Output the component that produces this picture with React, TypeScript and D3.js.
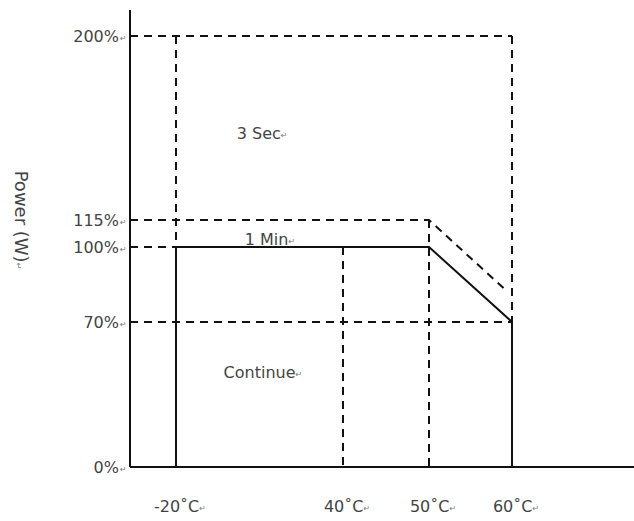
import React from "react";
import * as d3 from "d3";

const W = 634;
const H = 521;

// Schematic axis stops (non-uniform spacing in the original)
const tempStops = [-20, 40, 50, 60];
const powerStops = [0, 70, 100, 115, 200];

const xTickLabels = ["-20˚C", "40˚C", "50˚C", "60˚C"];
const yTickLabels = ["0%", "70%", "100%", "115%", "200%"];

// Continuous derating curve (solid)
const contTemps = [-20, -20, 50, 60, 60];
const contPower = [0, 100, 100, 70, 0];

// 1 Min curve (dashed)
const minTemps = [-20, 50, 59.5];
const minPower = [115, 115, 82];

// 3 Sec envelope (dashed)
const secTemps = [-20, 60, 60];
const secPower = [70, 200, 70];

const regionLabels = ["3 Sec", "1 Min", "Continue"];
const regionTemps = [9.5, 12.3, 9.8];
const regionPower = [155, 104.4, 46];

export default function App() {
  const x = d3.scaleLinear().domain(tempStops).range([176, 343, 429, 512]);
  const y = d3.scaleLinear().domain(powerStops).range([467, 322, 247, 220, 36]);
  const x0 = 130;
  const xEnd = 634;
  const line = d3.line<[number, number]>().x((d) => x(d[0])).y((d) => y(d[1]));

  const contPath = line(contTemps.map((t, i) => [t, contPower[i]]) as [number, number][]);
  const minPath =
    `M${x0},${y(minPower[0])}` +
    line(minTemps.map((t, i) => [t, minPower[i]]) as [number, number][])!.replace(/^M/, "L");

  const dash = "8,6";
  const stroke = "#111";
  const font = "'DejaVu Sans', sans-serif";
  const textFill = "#444";
  const mark = (
    <tspan fontSize={8} dy={-1} fill="#777">
      ↵
    </tspan>
  );

  return (
    <svg
      width={W}
      height={H}
      style={{ position: "absolute", left: 0, top: 0, background: "#fff" }}
    >
      {/* axes */}
      <line x1={x0} x2={x0} y1={10} y2={y(0)} stroke={stroke} strokeWidth={2} />
      <line x1={x0} x2={xEnd} y1={y(0)} y2={y(0)} stroke={stroke} strokeWidth={2} />

      {/* dashed guides */}
      <g fill="none" stroke={stroke} strokeWidth={2} strokeDasharray={dash}>
        <line x1={x0} x2={x(secTemps[1])} y1={y(secPower[1])} y2={y(secPower[1])} />
        <line x1={x(secTemps[0])} x2={x(secTemps[0])} y1={y(secPower[1])} y2={y(100)} />
        <line x1={x(secTemps[2])} x2={x(secTemps[2])} y1={y(secPower[1])} y2={y(secPower[2])} />
        <line x1={x0} x2={x(60)} y1={y(secPower[0])} y2={y(secPower[0])} />
        <line x1={x0} x2={x(-20)} y1={y(100)} y2={y(100)} />
        <path d={minPath} />
        <line x1={x(40)} x2={x(40)} y1={y(100)} y2={y(0)} />
        <line x1={x(50)} x2={x(50)} y1={y(115)} y2={y(0)} />
      </g>

      {/* continuous solid curve */}
      <path d={contPath!} fill="none" stroke={stroke} strokeWidth={2} />

      {/* y labels */}
      <g fontFamily={font} fontSize={16} fill={textFill}>
        {yTickLabels.map((l, i) => (
          <text key={l} x={119} y={y(powerStops[i]) + 6} textAnchor="end">
            {l}
          </text>
        ))}
        {yTickLabels.map((l, i) => (
          <text key={l + "m"} x={120} y={y(powerStops[i]) + 5} fontSize={8} fill="#777">
            ↵
          </text>
        ))}
      </g>

      {/* x labels */}
      <g fontFamily={font} fontSize={16} fill={textFill} textAnchor="middle">
        {xTickLabels.map((l, i) => (
          <text key={l} x={x(tempStops[i]) + 4} y={512}>
            {l}
            {mark}
          </text>
        ))}
      </g>

      {/* region labels */}
      <g fontFamily={font} fontSize={16} fill={textFill} textAnchor="middle">
        {regionLabels.map((l, i) => (
          <text key={l} x={x(regionTemps[i]) + 4} y={y(regionPower[i]) + 6}>
            {l}
            {mark}
          </text>
        ))}
      </g>

      {/* y axis title */}
      <text
        fontFamily={font}
        fontSize={18}
        fill={textFill}
        textAnchor="middle"
        transform={`translate(15,220) rotate(90)`}
      >
        Power (W)
        {mark}
      </text>
    </svg>
  );
}
